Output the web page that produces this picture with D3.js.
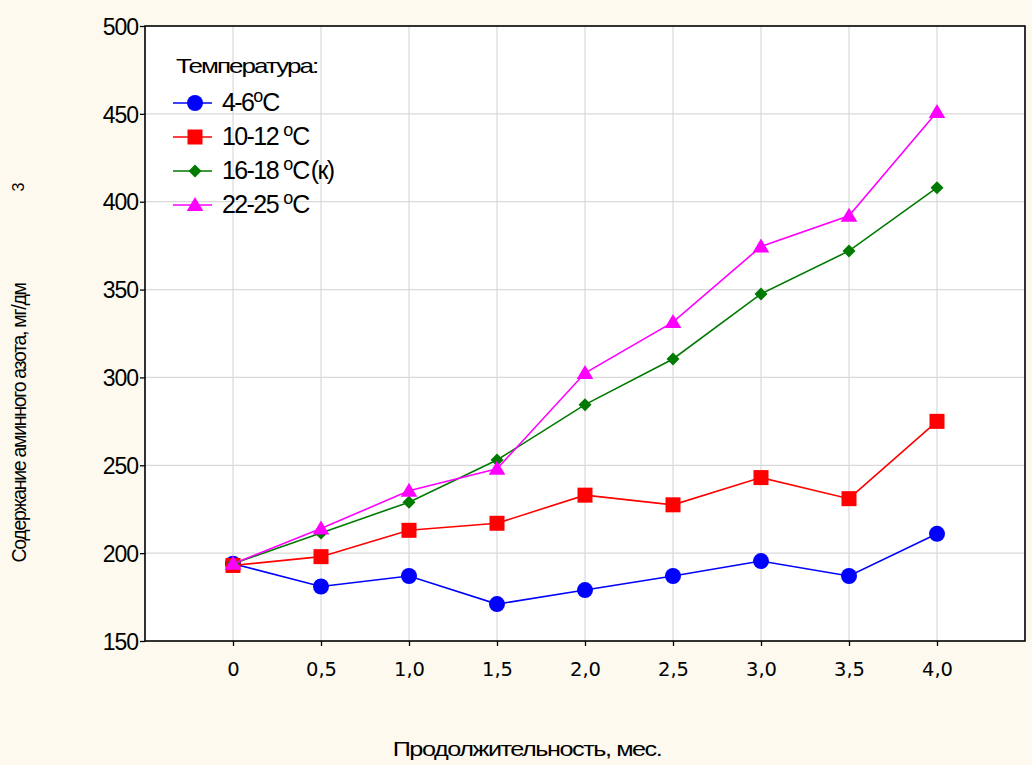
<!DOCTYPE html>
<html><head><meta charset="utf-8">
<script src="https://cdn.jsdelivr.net/npm/d3@7"></script>
<style>
html,body{margin:0;padding:0;background:#fdf9ee;}
svg{display:block;}
</style></head>
<body>
<svg id="chart" width="1032" height="765"></svg>
<script>
const months = [0, 0.5, 1.0, 1.5, 2.0, 2.5, 3.0, 3.5, 4.0];
const xTickLabels = ["0", "0,5", "1,0", "1,5", "2,0", "2,5", "3,0", "3,5", "4,0"];
const yTicks = [150, 200, 250, 300, 350, 400, 450, 500];
const s4_6   = [194, 181, 187, 171, 179, 187, 195.5, 187, 211];
const s10_12 = [193, 198, 213, 217, 233, 227.5, 243, 231, 275];
const s16_18 = [194, 211.5, 229, 253, 284.5, 310.5, 347.5, 372, 408];
const s22_25 = [194, 214, 235.5, 248, 302.5, 331.5, 374.5, 392, 451];
const seriesNames = ["4-6", "10-12 ", "16-18 ", "22-25 "];
const seriesSuffix = ["", "", "(к)", ""];
const seriesColors = ["#0000ff", "#ff0000", "#007a00", "#ff00ff"];
const seriesShapes = ["circle", "square", "diamond", "triangle"];
const seriesData = [s4_6, s10_12, s16_18, s22_25];

const FONT = "Liberation Sans, Arial, sans-serif";
const svg = d3.select("#chart");
const L = 145, R = 1025, T = 26, B = 641;
const x = d3.scaleLinear().domain([-0.5, 4.5]).range([L, R]);
const y = d3.scaleLinear().domain([150, 500]).range([B, T]);

svg.append("rect").attr("x", L).attr("y", T).attr("width", R - L).attr("height", B - T).attr("fill", "#fff");

// grid
svg.append("g").selectAll("line").data(months).join("line")
  .attr("x1", d => x(d)).attr("x2", d => x(d)).attr("y1", T).attr("y2", B)
  .attr("stroke", "#d9d9d9").attr("stroke-width", 1.2);
svg.append("g").selectAll("line").data(yTicks.slice(1, -1)).join("line")
  .attr("x1", L).attr("x2", R).attr("y1", d => y(d)).attr("y2", d => y(d))
  .attr("stroke", "#d9d9d9").attr("stroke-width", 1.2);

// axes
const yAxis = d3.axisLeft(y).tickValues(yTicks).tickSize(5).tickPadding(2);
const gy = svg.append("g").attr("transform", `translate(${L},0)`).call(yAxis);
gy.select(".domain").remove();
gy.selectAll("line").attr("stroke", "#000").attr("stroke-width", 1.3);
gy.selectAll("text").attr("font-family", FONT)
  .attr("font-size", 23).attr("letter-spacing", "-1").attr("fill", "#000").attr("dy", "0.36em");

const xAxis = d3.axisBottom(x).tickValues(months).tickFormat((d, i) => xTickLabels[i]).tickSize(5).tickPadding(16);
const gx = svg.append("g").attr("transform", `translate(0,${B})`).call(xAxis);
gx.select(".domain").remove();
gx.selectAll("line").attr("stroke", "#000").attr("stroke-width", 1.3);
gx.selectAll("text").attr("font-family", "DejaVu Sans, Verdana, sans-serif")
  .attr("font-size", 19.5).attr("fill", "#000");

// frame
svg.append("rect").attr("x", L).attr("y", T).attr("width", R - L).attr("height", B - T)
  .attr("fill", "none").attr("stroke", "#000").attr("stroke-width", 1.6);

// symbols
function drawMarker(g, shape, color, cx, cy) {
  if (shape === "circle") {
    g.append("circle").attr("cx", cx).attr("cy", cy).attr("r", 8).attr("fill", color);
  } else if (shape === "square") {
    g.append("rect").attr("x", cx - 7.5).attr("y", cy - 7.5).attr("width", 15).attr("height", 15).attr("fill", color);
  } else if (shape === "diamond") {
    g.append("path").attr("d", `M${cx},${cy - 6.5}L${cx + 6.5},${cy}L${cx},${cy + 6.5}L${cx - 6.5},${cy}Z`).attr("fill", color);
  } else {
    g.append("path").attr("d", `M${cx},${cy - 8}L${cx + 8.3},${cy + 6}L${cx - 8.3},${cy + 6}Z`).attr("fill", color);
  }
}

const line = d3.line().x((d, i) => x(months[i])).y(d => y(d));
seriesData.forEach((data, si) => {
  const g = svg.append("g");
  g.append("path").datum(data).attr("d", line).attr("fill", "none")
    .attr("stroke", seriesColors[si]).attr("stroke-width", 1.6);
  data.forEach((v, i) => drawMarker(g, seriesShapes[si], seriesColors[si], x(months[i]), y(v)));
});

// legend
const lg = svg.append("g");
lg.append("text").attr("transform", "translate(176,73) scale(1.3,1)").text("Температура:")
  .attr("font-family", FONT).attr("font-size", 20).attr("letter-spacing", "-1.5").attr("fill", "#000");
seriesNames.forEach((name, i) => {
  const cy = 103 + i * 34;
  lg.append("line").attr("x1", 173).attr("x2", 212).attr("y1", cy).attr("y2", cy)
    .attr("stroke", seriesColors[i]).attr("stroke-width", 1.6);
  drawMarker(lg, seriesShapes[i], seriesColors[i], 195, cy);
  const t = lg.append("text").attr("x", 222).attr("y", cy + 8)
    .attr("font-family", FONT).attr("font-size", 25)
    .attr("letter-spacing", "-1.6").attr("fill", "#000");
  t.append("tspan").text(name);
  t.append("tspan").attr("font-size", 18).attr("dy", -9).attr("letter-spacing", "0").text("o");
  t.append("tspan").attr("dy", 9).attr("dx", -1).text("C");
  if (seriesSuffix[i]) t.append("tspan").attr("dx", 2).text(seriesSuffix[i]);
});

// axis titles
svg.append("text").attr("transform", "translate(26,423) rotate(-90)")
  .attr("text-anchor", "middle").attr("font-family", FONT)
  .attr("font-size", 19.5).attr("letter-spacing", "-1.3")
  .attr("fill", "#000").text("Содержание аминного азота, мг/дм");
svg.append("text").attr("transform", "translate(24,187) rotate(-90)")
  .attr("text-anchor", "middle").attr("font-family", FONT)
  .attr("font-size", 16).attr("fill", "#000").text("3");
svg.append("text").attr("transform", "translate(527,756) scale(1.2,1)")
  .attr("text-anchor", "middle").attr("font-family", FONT)
  .attr("font-size", 21).attr("letter-spacing", "-1.2")
  .attr("fill", "#000").text("Продолжительность, мес.");
</script>
</body></html>
